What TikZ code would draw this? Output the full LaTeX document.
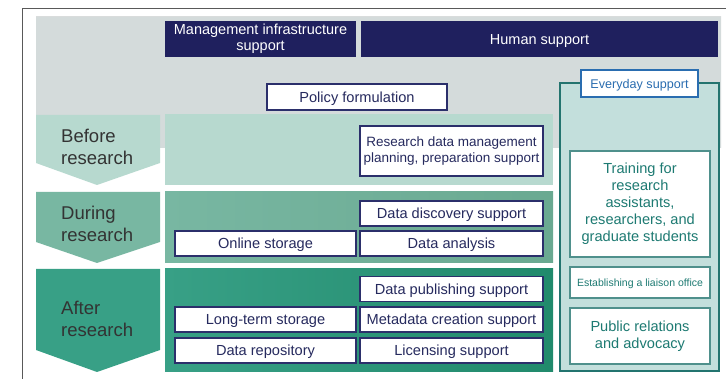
\documentclass[tikz,border=0pt]{standalone}
\usepackage{fontspec}
\setmainfont{Liberation Sans}
\definecolor{navy}{HTML}{1F205E}
\definecolor{navyb}{HTML}{2B2F6B}
\definecolor{navyt}{HTML}{262A5E}
\definecolor{grayb}{HTML}{D4DBDB}
\definecolor{beforec}{HTML}{B7D9CF}
\definecolor{duringc}{HTML}{78B7A2}
\definecolor{duringd}{HTML}{6AA991}
\definecolor{afterc}{HTML}{38A086}
\definecolor{afterd}{HTML}{218A6C}
\definecolor{panelr}{HTML}{C3DFDC}
\definecolor{tealb}{HTML}{23746F}
\definecolor{tealt}{HTML}{1D7A72}
\definecolor{bluee}{HTML}{2A6DB0}
\definecolor{labc}{HTML}{333333}
\begin{document}
\begin{tikzpicture}[x=1pt,y=-1pt,
  hdr/.style={fill=navy, text=white, inner sep=0pt, align=center,
    font=\fontsize{14.5}{16}\selectfont},
  wbox/.style={draw=navyb, fill=white, text=navyt, inner sep=0pt, line width=1.3pt,
    align=center, font=\fontsize{14.6}{16.5}\selectfont},
  one/.style={text height=10.5pt, text depth=0pt},
  tbox/.style={draw=tealb!80, fill=white, text=tealt, inner sep=0pt, line width=1.3pt,
    align=center},
  lab/.style={text=labc, font=\fontsize{18.5}{22}\selectfont, align=left,
    anchor=west, inner sep=0pt}
]
\useasboundingbox (0,0) rectangle (726,379);
\fill[white] (0,0) rectangle (726,379);
% frame
\draw[gray!70!black, line width=0.8pt] (726,8) -- (22,8) -- (22,379);
% gray background
\shade[top color=grayb!90!black!60!white, bottom color=grayb] (36,17) rectangle (721,148);
\fill[grayb] (36,17) rectangle (721,148);
% stage panels
\fill[beforec] (165,114) rectangle (553,185);
\shade[left color=duringc, right color=duringd] (165,192) rectangle (553,263);
\shade[left color=afterc, right color=afterd] (165,269) rectangle (553,372);
% stage arrows
\fill[beforec] (36,115) -- (160,115) -- (160,163) -- (97,185) -- (36,163) -- cycle;
\fill[duringc] (36,192) -- (160,192) -- (160,242) -- (97,263) -- (36,242) -- cycle;
\fill[afterc] (36,269) -- (160,269) -- (160,350) -- (97,372) -- (36,350) -- cycle;
\node[lab] (before) at (61,147) {Before\\research};
\node[lab] (during) at (61,224) {During\\research};
\node[lab] (after) at (61,319) {After\\research};
% headers
\node[hdr, minimum width=191, minimum height=36] (mgmt) at (260.5,39)
  {Management infrastructure\\support};
\node[hdr, one, minimum width=357, minimum height=36] (human) at (539.5,39) {Human support};
\node[wbox, one, minimum width=180, minimum height=26] (policy) at (357,97) {Policy formulation};
% boxes
\node[wbox, minimum width=183, minimum height=50, font=\fontsize{13.5}{16}\selectfont]
  (rdm) at (451.5,151) {Research data management\\planning, preparation support};
\node[wbox, one, minimum width=183, minimum height=25] (disc) at (451.5,213.5) {Data discovery support};
\node[wbox, one, minimum width=181, minimum height=25] (online) at (265.5,243.5) {Online storage};
\node[wbox, one, minimum width=183, minimum height=25] (anal) at (451.5,243.5) {Data analysis};
\node[wbox, one, minimum width=183, minimum height=25] (publ) at (451.5,289) {Data publishing support};
\node[wbox, one, minimum width=181, minimum height=25] (longt) at (265.5,319.5) {Long-term storage};
\node[wbox, one, minimum width=183, minimum height=25] (meta) at (451.5,319.5) {Metadata creation support};
\node[wbox, one, minimum width=181, minimum height=25] (repo) at (265.5,350.5) {Data repository};
\node[wbox, one, minimum width=183, minimum height=25] (lic) at (451.5,350.5) {Licensing support};
% right column
\node[draw=tealb, fill=panelr, line width=2.2pt, minimum width=159, minimum height=288,
  inner sep=0pt] (right) at (639.5,227) {};
\node[draw=bluee, fill=white, text=bluee, line width=2pt, minimum width=117, minimum height=27,
  inner sep=0pt, text height=9.2pt, text depth=0pt, font=\fontsize{12.6}{14}\selectfont]
  (every) at (639.5,83.5) {Everyday support};
\node[tbox, minimum width=140, minimum height=106, font=\fontsize{14.6}{17}\selectfont]
  (train) at (640,204) {Training for\\research\\assistants,\\researchers, and\\graduate students};
\node[tbox, minimum width=140, minimum height=31, text height=7.6pt, text depth=0pt,
  font=\fontsize{10.5}{12}\selectfont]
  (liaison) at (640,282.5) {Establishing a liaison office};
\node[tbox, minimum width=140, minimum height=56, font=\fontsize{14.6}{17}\selectfont]
  (pr) at (640,336) {Public relations\\and advocacy};
\end{tikzpicture}
\end{document}
